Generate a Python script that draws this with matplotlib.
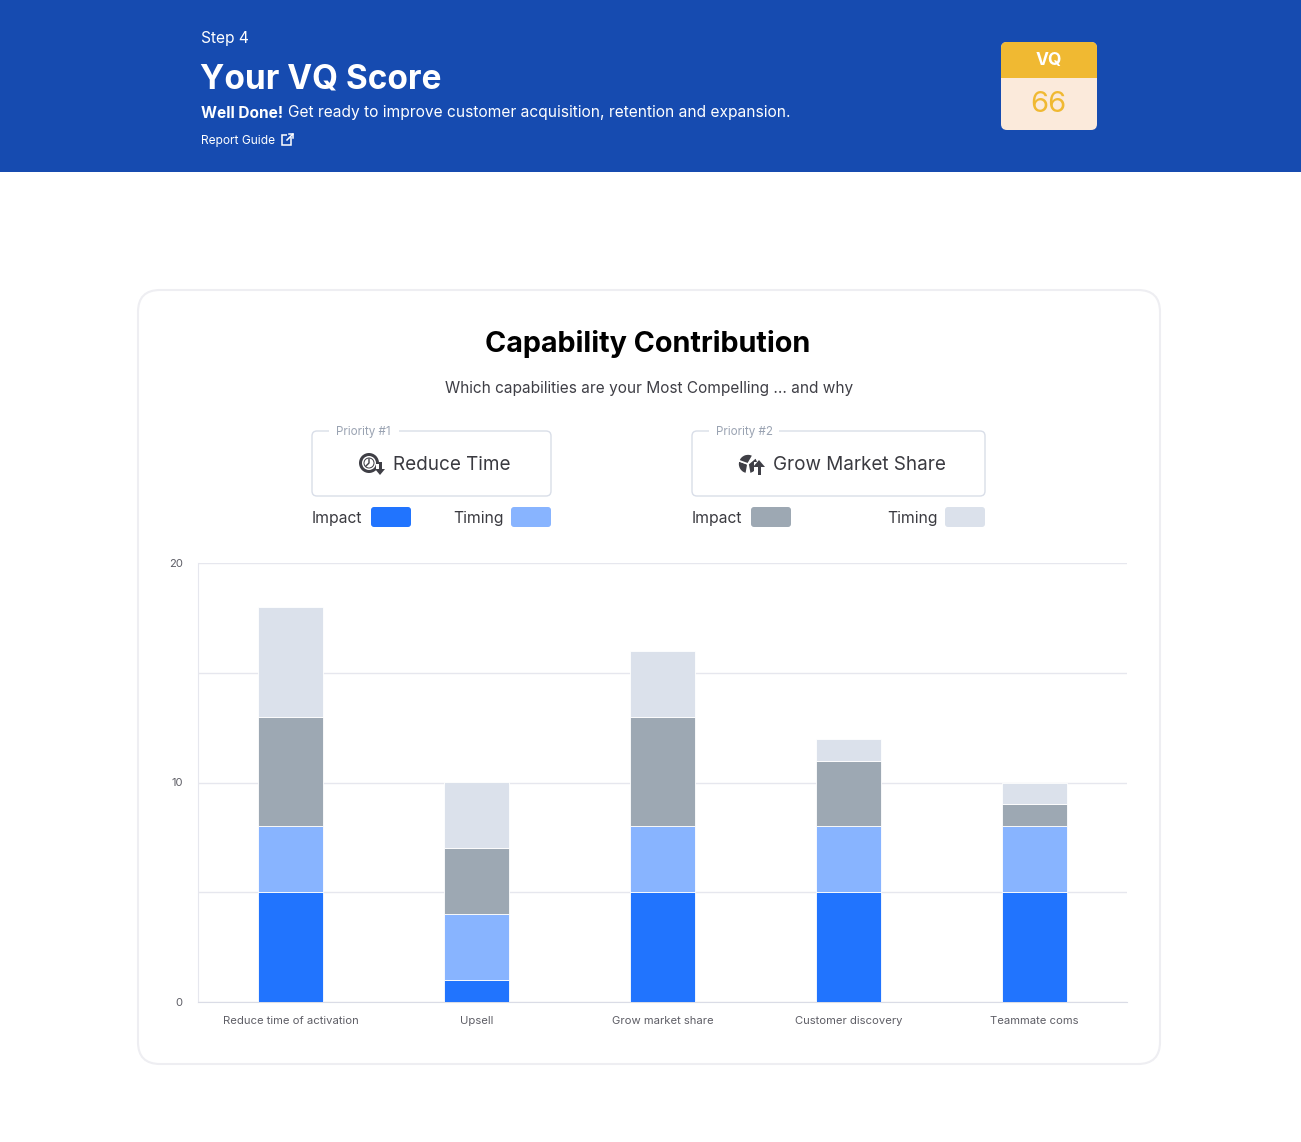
import numpy as np
import matplotlib
matplotlib.use("Agg")
import matplotlib.pyplot as plt
from matplotlib.patches import FancyBboxPatch, Rectangle, Circle, Wedge, Polygon

plt.rcParams['font.family'] = ['Inter', 'DejaVu Sans']

categories = ["Reduce time of activation", "Upsell", "Grow market share",
              "Customer discovery", "Teammate coms"]
impact_1 = [5, 1, 5, 5, 5]
timing_1 = [3, 3, 3, 3, 3]
impact_2 = [5, 3, 5, 3, 1]
timing_2 = [5, 3, 3, 1, 1]
y_ticks = [0, 5, 10, 15, 20]
y_labels = ["0", "", "10", "", "20"]

C_IMP1 = "#2174FE"
C_TIM1 = "#88B4FF"
C_IMP2 = "#9DA8B3"
C_TIM2 = "#DBE1EB"

W, H = 1301, 1142
fig = plt.figure(figsize=(W / 100, H / 100), dpi=100)
fig.patch.set_facecolor("white")

# overlay in pixel coords
bg = fig.add_axes([0, 0, 1, 1])
bg.set_xlim(0, W)
bg.set_ylim(H, 0)
bg.axis("off")

# header
bg.add_patch(Rectangle((0, 0), W, 172, color="#164BB0", lw=0))
bg.text(201, 38, "Step 4", color="white", fontsize=11.2, va="center")
bg.text(200, 79, "Your VQ Score", color="white", fontsize=24, weight="bold", va="center")
bg.text(201, 113, "Well Done!", color="white", fontsize=11.1, weight="bold", va="center")
bg.text(288, 113, "Get ready to improve customer acquisition, retention and expansion.",
        color="white", fontsize=11.2, va="center")
bg.text(201, 141, "Report Guide", color="white", fontsize=8.6, va="center")
# external link icon
bg.add_patch(Rectangle((282, 135), 9, 10, fill=False, ec="white", lw=1.1))
bg.add_patch(Rectangle((287, 131), 6, 6, color="#164BB0", lw=0))
bg.plot([287, 293], [140, 134], color="white", lw=1.1)
bg.plot([289, 293, 293], [134, 134, 138], color="white", lw=1.1)

# VQ badge
bg.add_patch(FancyBboxPatch((1001, 42), 96, 88, boxstyle="round,pad=0,rounding_size=6",
                            fc="#FBEADB", ec="none"))
bg.add_patch(FancyBboxPatch((1001, 42), 96, 36, boxstyle="round,pad=0,rounding_size=6",
                            fc="#F0B932", ec="none"))
bg.add_patch(Rectangle((1001, 66), 96, 12, color="#F0B932", lw=0))
bg.text(1049, 61, "VQ", color="white", fontsize=12.5, weight="bold", ha="center", va="center")
bg.text(1048, 104, "66", color="#F0B932", fontsize=21, ha="center", va="center")

# card
bg.add_patch(FancyBboxPatch((138, 290), 1022, 774, boxstyle="round,pad=0,rounding_size=22",
                            fc="white", ec="#EEEEF2", lw=1.5))
bg.text(648, 344, "Capability Contribution", fontsize=20.7, weight="bold",
        ha="center", va="center", color="black")
bg.text(649, 389, "Which capabilities are your Most Compelling ... and why", fontsize=11.1,
        ha="center", va="center", color="#3F3F46")

# priority boxes
for x0, w, num, label, tx in [(312, 239, "#1", "Reduce Time", 393),
                              (692, 293, "#2", "Grow Market Share", 773)]:
    bg.add_patch(FancyBboxPatch((x0, 431), w, 65, boxstyle="round,pad=0,rounding_size=5",
                                fc="white", ec="#D9DEE8", lw=1))
    bg.add_patch(Rectangle((x0 + 17, 424), 70, 14, color="white", lw=0))
    bg.text(x0 + 24, 432, "Priority " + num, fontsize=8.4, color="#9AA3B2", va="center")
    bg.text(tx, 465, label, fontsize=13.6, color="#3A3A40", va="center")

# clock icon
bg.add_patch(Circle((369, 463), 10, fc="#3F3F46", ec="none"))
bg.add_patch(Circle((369, 463), 7, fc="white", ec="none"))
bg.add_patch(Circle((369, 463), 5.5, fc="#3F3F46", ec="none"))
bg.add_patch(Circle((369, 463), 4.5, fc="white", ec="none"))
bg.plot([369, 369, 366], [459, 463, 466], color="#3F3F46", lw=1)
bg.add_patch(Rectangle((376, 464), 8, 12, color="white", lw=0))
bg.add_patch(Rectangle((378.5, 462), 3, 8, color="#3F3F46", lw=0))
bg.add_patch(Polygon([[375, 469], [385, 469], [380, 475]], closed=True, color="#3F3F46", lw=0))

# pie icon
bg.add_patch(Wedge((748, 464), 10, 100, 200, fc="#3F3F46", ec="white", lw=1.2))
bg.add_patch(Wedge((748, 464), 10, 200, 300, fc="#3F3F46", ec="white", lw=1.2))
bg.add_patch(Wedge((748, 464), 10, 320, 80, fc="#3F3F46", ec="white", lw=1.2))
bg.add_patch(Rectangle((754, 462), 10, 14, color="white", lw=0))
bg.add_patch(Rectangle((757.5, 466), 3, 9, color="#3F3F46", lw=0))
bg.add_patch(Polygon([[753, 467], [765, 467], [759, 460]], closed=True, color="#3F3F46", lw=0))

# legends
for tx, px, lab, col in [(312, 371, "Impact", C_IMP1), (453, 511, "Timing", C_TIM1),
                         (692, 751, "Impact", C_IMP2), (887, 945, "Timing", C_TIM2)]:
    bg.text(tx, 518, lab, fontsize=11.3, color="#3A3A40", va="center")
    bg.add_patch(FancyBboxPatch((px, 507), 40, 20, boxstyle="round,pad=0,rounding_size=3",
                                fc=col, ec="none"))

# chart
ax = fig.add_axes([198 / W, (H - 1002) / H, 929 / W, 439 / H])
ax.set_facecolor("none")
x = np.arange(len(categories))
series = [impact_1, timing_1, impact_2, timing_2]
colors = [C_IMP1, C_TIM1, C_IMP2, C_TIM2]
bottom = np.zeros(len(categories))
for vals, col in zip(series, colors):
    ax.bar(x, vals, width=0.35, bottom=bottom, color=col, edgecolor="white",
           linewidth=0.6, zorder=3)
    bottom += np.array(vals)

ax.set_xlim(-0.5, len(categories) - 0.5)
ax.set_ylim(0, 20)
ax.set_yticks(y_ticks)
ax.set_yticklabels(y_labels)
ax.set_xticks(x)
ax.set_xticklabels(categories)
ax.grid(axis="y", color="#E6E7EE", lw=1, zorder=0)
for s in ["top", "right"]:
    ax.spines[s].set_visible(False)
ax.spines["left"].set_color("#E6E7EE")
ax.spines["bottom"].set_color("#DADCE6")
ax.tick_params(axis="both", length=0, colors="#5E5E66", labelsize=8.1)
ax.tick_params(axis="x", pad=10)
ax.tick_params(axis="y", pad=11)

fig.savefig("out.png", dpi=100)
